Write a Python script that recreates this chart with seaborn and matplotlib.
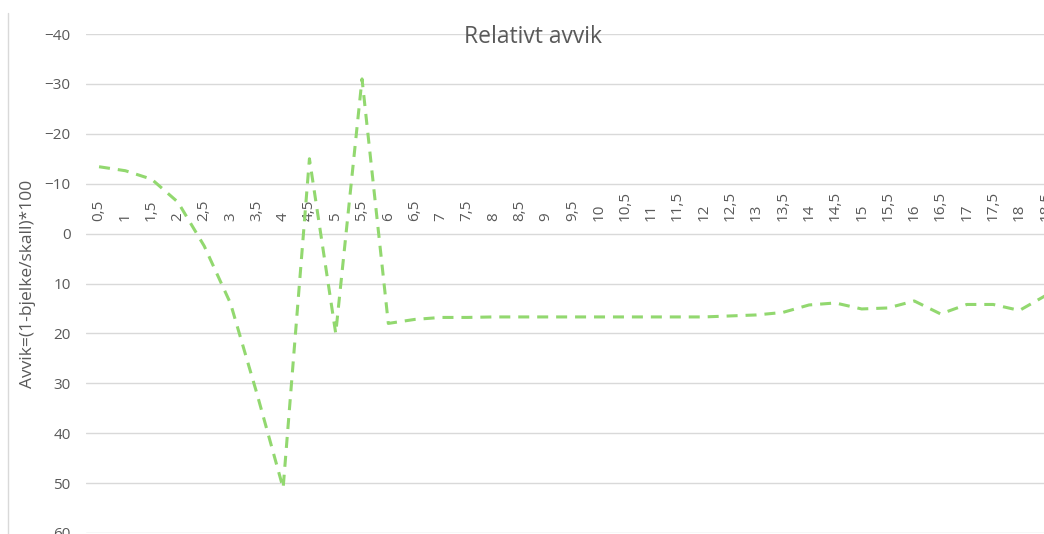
import matplotlib
matplotlib.use("Agg")
import matplotlib.pyplot as plt
import seaborn as sns
import pandas as pd
from matplotlib.lines import Line2D

sns.set_theme(style="white")
plt.rcParams["font.family"] = ["Open Sans", "DejaVu Sans"]

# ===============================
# Data
# ===============================
categories = ["0,5", "1", "1,5", "2", "2,5", "3", "3,5", "4", "4,5", "5",
              "5,5", "6", "6,5", "7", "7,5", "8", "8,5", "9", "9,5", "10",
              "10,5", "11", "11,5", "12", "12,5", "13", "13,5", "14", "14,5", "15",
              "15,5", "16", "16,5", "17", "17,5", "18", "18,5"]
avvik = [-13.4, -12.6, -10.9, -6.3, 2.5, 14.0, 32.0, 51.0, -15.0, 20.0,
         -31.0, 18.0, 17.2, 16.8, 16.8, 16.7, 16.7, 16.7, 16.7, 16.7,
         16.7, 16.7, 16.7, 16.7, 16.5, 16.3, 15.8, 14.3, 13.9, 15.1,
         14.9, 13.5, 16.1, 14.2, 14.2, 15.4, 12.4]
y_ticks = [-40, -30, -20, -10, 0, 10, 20, 30, 40, 50, 60]

df = pd.DataFrame({"pos": range(len(categories)), "avvik": avvik})

grey = "#595959"
green = "#92D86F"

# ===============================
# Plot
# ===============================
fig = plt.figure(figsize=(10.44, 5.34), dpi=100)
ax = fig.add_axes([85.9 / 1044, 1 - 533 / 534, 973 / 1044, 499 / 534])

sns.lineplot(data=df, x="pos", y="avvik", ax=ax, color=green, linewidth=2.2,
             linestyle=(0, (3.6, 2.6)))

ax.set_xlim(-0.5, len(categories) - 0.5)
ax.set_ylim(60, -40)
ax.set_yticks(y_ticks)
ax.set_yticklabels([f"{v}".replace("-", "\u2212") for v in y_ticks])
ax.grid(axis="y", color="#D9D9D9", linewidth=1)
ax.set_axisbelow(True)

for s in ["left", "right", "bottom"]:
    ax.spines[s].set_visible(False)
ax.spines["top"].set_position(("data", 0))
ax.spines["top"].set_visible(False)

ax.xaxis.tick_top()
ax.set_xticks(df["pos"])
ax.set_xticklabels(categories, rotation=90, va="bottom", ha="center")
ax.tick_params(axis="x", length=0, pad=9, labelsize=11, labelcolor=grey)
ax.tick_params(axis="y", length=0, pad=11, labelsize=11, labelcolor=grey)
ax.set_xlabel("")
ax.set_ylabel("Avvik=(1-bjelke/skall)*100", color=grey, fontsize=12.5, labelpad=6)

fig.text(533 / 1044, 1 - 37 / 534, "Relativt avvik", ha="center", va="center",
         fontsize=16.5, color=grey)

fig.add_artist(Line2D([8 / 1044, 8 / 1044], [0, 1 - 13 / 534],
                      transform=fig.transFigure, color="#D9D9D9", linewidth=1))

fig.savefig("out.png", dpi=100)
